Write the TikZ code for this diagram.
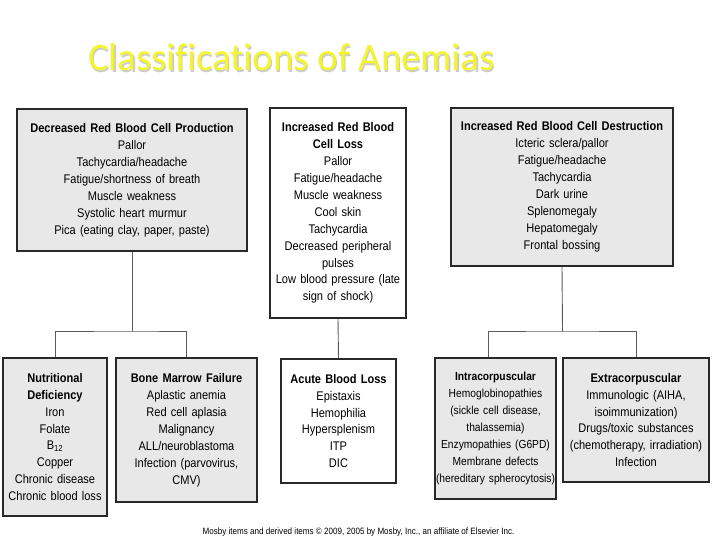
\documentclass[tikz,border=0pt]{standalone}
\usepackage{fontspec}
\setmainfont{Liberation Sans}[FakeStretch=0.88]
\newfontfamily\titlefont{Carlito}[Ligatures=NoCommon]
\definecolor{boxgrey}{RGB}{232,232,232}
\definecolor{titleyellow}{RGB}{245,245,45}
\definecolor{edgecol}{RGB}{40,40,40}
\definecolor{linecol}{RGB}{90,90,90}
\tikzset{
  box/.style={draw=edgecol, line width=1.3bp, align=center, inner sep=2bp,
    font=\fontsize{12.6}{17}\selectfont},
  greybox/.style={box, fill=boxgrey},
  whitebox/.style={box, fill=white},
  conn/.style={draw=linecol, line width=0.9bp},
}
\newcommand{\hd}[1]{{\bfseries #1}}
\begin{document}
\begin{tikzpicture}[x=1bp,y=-1bp]
\useasboundingbox (0,0) rectangle (720,540);
% title
\node[anchor=base west, inner sep=0, text=gray!40] at (89.2,72.2) {\titlefont\fontsize{39}{39}\selectfont Classifications of Anemias};
\node[anchor=base west, inner sep=0, text=titleyellow] (title) at (88,71) {\titlefont\fontsize{39}{39}\selectfont Classifications of Anemias};
% top boxes
\node[greybox, minimum width=230bp, minimum height=142bp, text width=226bp] (dec) at (132,180)
 {\hd{Decreased Red Blood Cell Production}\\Pallor\\Tachycardia/headache\\Fatigue/shortness of breath\\Muscle weakness\\Systolic heart murmur\\Pica (eating clay, paper, paste)};
\node[whitebox, minimum width=136bp, minimum height=210bp, text width=132bp] (loss) at (338,213)
 {\hd{Increased Red Blood}\\\hd{Cell Loss}\\Pallor\\Fatigue/headache\\Muscle weakness\\Cool skin\\Tachycardia\\Decreased peripheral\\pulses\\Low blood pressure (late\\sign of shock)};
\node[greybox, minimum width=222bp, minimum height=158bp, text width=218bp] (destr) at (562,187)
 {\hd{Increased Red Blood Cell Destruction}\\Icteric sclera/pallor\\Fatigue/headache\\Tachycardia\\Dark urine\\Splenomegaly\\Hepatomegaly\\Frontal bossing};
% bottom boxes
\node[greybox, minimum width=104bp, minimum height=158bp, text width=100bp] (nutr) at (55,437)
 {\hd{Nutritional}\\\hd{Deficiency}\\Iron\\Folate\\B\textsubscript{12}\\Copper\\Chronic disease\\Chronic blood loss};
\node[greybox, minimum width=141bp, minimum height=144bp, text width=137bp] (bone) at (186.5,430)
 {\hd{Bone Marrow Failure}\\Aplastic anemia\\Red cell aplasia\\Malignancy\\ALL/neuroblastoma\\Infection (parvovirus,\\CMV)};
\node[whitebox, minimum width=115bp, minimum height=124bp, text width=111bp] (acute) at (338.5,421)
 {\hd{Acute Blood Loss}\\Epistaxis\\Hemophilia\\Hypersplenism\\ITP\\DIC};
\node[greybox, minimum width=121bp, minimum height=141bp, text width=119bp, inner xsep=1bp,
      font=\fontsize{11.7}{17}\selectfont] (intra) at (495.5,428.5)
 {\hd{Intracorpuscular}\\Hemoglobinopathies\\(sickle cell disease,\\thalassemia)\\Enzymopathies (G6PD)\\Membrane defects\\\mbox{(hereditary spherocytosis)}};
\node[greybox, minimum width=146bp, minimum height=124bp, text width=142bp] (extra) at (636,420)
 {\hd{Extracorpuscular}\\Immunologic (AIHA,\\isoimmunization)\\Drugs/toxic substances\\(chemotherapy, irradiation)\\Infection};
% connectors
\coordinate (j1) at (132,331);
\coordinate (j3) at (562.5,331);
\draw[conn] (dec.south) -- (j1);
\draw[conn] (nutr.north) |- (j1) -| (bone.north);
\draw[conn] (loss.south) -- (acute.north);
\draw[conn] (destr.south) -- (j3);
\draw[conn] ([xshift=-7.5bp]intra.north) |- (j3) -| (extra.north);
% footer
\node[anchor=base, inner sep=0, font=\fontsize{9.2}{10}\selectfont] (foot) at (358.5,534)
 {Mosby items and derived items \textcopyright{} 2009, 2005 by Mosby, Inc., an affiliate of Elsevier Inc.};
\end{tikzpicture}
\end{document}
